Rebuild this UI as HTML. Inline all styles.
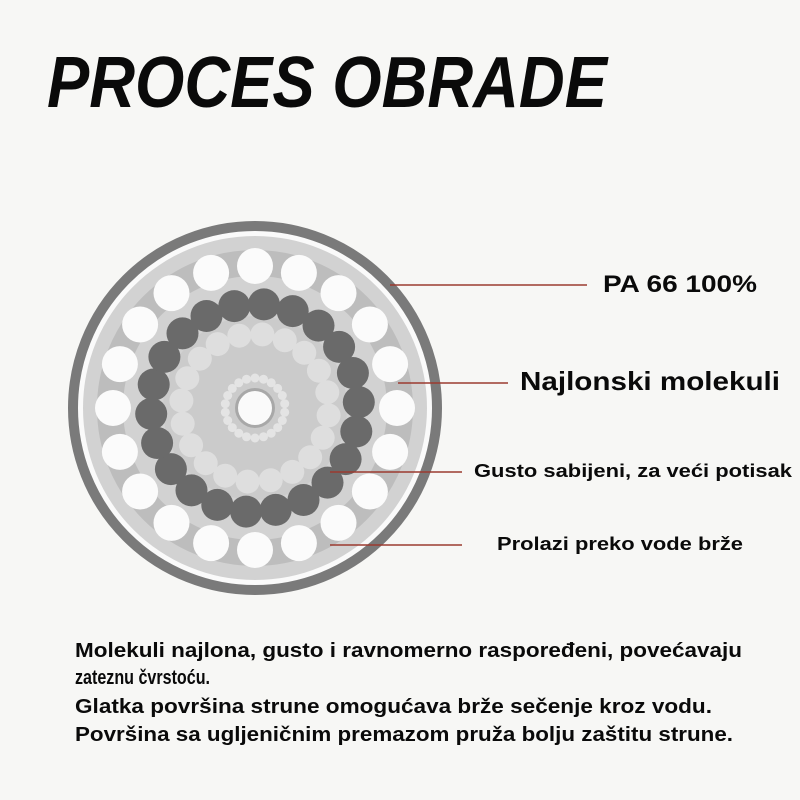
<!DOCTYPE html>
<html><head><meta charset="utf-8"><style>
html,body{margin:0;padding:0;background:#f7f7f5;}
svg{display:block}
text{font-family:"Liberation Sans",sans-serif;font-weight:bold;fill:#0a0a0a}
</style></head><body>
<svg id="s" width="800" height="800" viewBox="0 0 800 800" xmlns="http://www.w3.org/2000/svg">
<rect width="800" height="800" fill="#f7f7f5"/>
<text x="47" y="107" font-size="72" font-style="italic" textLength="560" lengthAdjust="spacingAndGlyphs">PROCES OBRADE</text>
<circle cx="255" cy="408" r="182" fill="#fafafa" stroke="#7a7a7a" stroke-width="10"/>
<circle cx="255" cy="408" r="172" fill="#d2d2d2"/>
<circle cx="255" cy="408" r="145" fill="none" stroke="#bdbdbd" stroke-width="26"/>
<circle cx="255" cy="408" r="92" fill="#cbcbcb"/>
<g id="g"></g>
<circle cx="255" cy="408" r="20" fill="#a8a8a8"/>
<circle cx="255" cy="408" r="17" fill="#fafafa"/>
<g stroke="#9b3b30" stroke-width="1.5">
<line x1="390" y1="285" x2="587" y2="285"/>
<line x1="398" y1="383" x2="508" y2="383"/>
<line x1="330" y1="472" x2="462" y2="472"/>
<line x1="330" y1="545" x2="462" y2="545"/>
</g>
<text x="603" y="292" font-size="24" textLength="154" lengthAdjust="spacingAndGlyphs">PA 66 100%</text>
<text x="520" y="390" font-size="26" textLength="260" lengthAdjust="spacingAndGlyphs">Najlonski molekuli</text>
<text x="474" y="477" font-size="18" textLength="318" lengthAdjust="spacingAndGlyphs">Gusto sabijeni, za veći potisak</text>
<text x="497" y="550" font-size="18" textLength="246" lengthAdjust="spacingAndGlyphs">Prolazi preko vode brže</text>
<text x="75" y="657" font-size="20" textLength="667" lengthAdjust="spacingAndGlyphs">Molekuli najlona, gusto i ravnomerno raspoređeni, povećavaju</text>
<text x="75" y="684" font-size="20" textLength="135" lengthAdjust="spacingAndGlyphs">zateznu čvrstoću.</text>
<text x="75" y="713" font-size="20" textLength="637" lengthAdjust="spacingAndGlyphs">Glatka površina strune omogućava brže sečenje kroz vodu.</text>
<text x="75" y="741" font-size="20" textLength="658" lengthAdjust="spacingAndGlyphs">Površina sa ugljeničnim premazom pruža bolju zaštitu strune.</text>
</svg>
<script>
var g=document.getElementById('g'),cx=255,cy=408,h='';
function ring(n,R,r,fill,off){for(var i=0;i<n;i++){var a=(i/n)*2*Math.PI+off;h+='<circle cx="'+(cx+R*Math.sin(a)).toFixed(1)+'" cy="'+(cy-R*Math.cos(a)).toFixed(1)+'" r="'+r+'" fill="'+fill+'"/>';}}
ring(20,142,18,'#fbfbfb',0);
ring(22,104,16,'#6a6a6a',-0.2);
ring(20,74,12,'#dedede',0.1);
ring(22,30,4.5,'#e4e4e4',0);
g.innerHTML=h;
</script>
</body></html>
